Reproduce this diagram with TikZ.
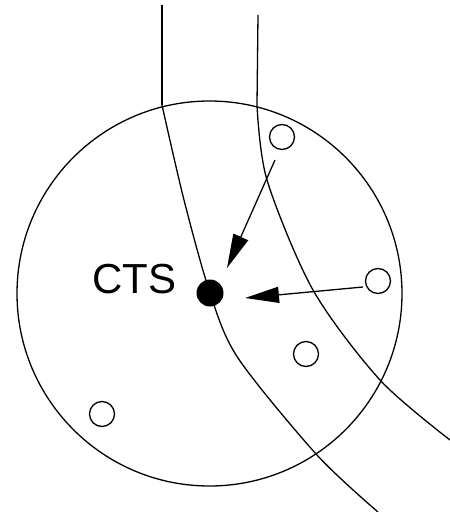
\documentclass[tikz,border=0pt]{standalone}
\usepackage{fontspec}
\setmainfont{Liberation Sans}
\usetikzlibrary{arrows.meta}
\begin{document}
\begin{tikzpicture}[x=1pt,y=-1pt,line width=1.3pt,
  station/.style={circle,draw,line width=1.3pt,minimum size=25pt,inner sep=0pt},
  cts/.style={circle,fill=black,minimum size=27pt,inner sep=0pt},
  arr/.style={-{Triangle[length=34pt,width=16pt]},line width=1.3pt}]
\useasboundingbox (0,0) rectangle (450,512);
% big circle
\draw (209.5,293.5) circle (192.5pt);
% curves
\draw plot[smooth,tension=0.5] coordinates {(162,105) (184,200) (210,293) (238,358) (317,455) (378,512)};
\draw (162,5) -- (162,105);
\draw plot[smooth,tension=0.5] coordinates {(257,105) (267,180) (313,290) (380,380) (450,440)};
\draw (258,15) -- (257,105);
% stations
\node[station] (s1) at (282,137) {};
\node[station] (s2) at (378,281) {};
\node[station] (s3) at (306,354) {};
\node[station] (s4) at (102,414) {};
\node[cts] (d) at (210,293) {};
\node[anchor=base,inner sep=0pt,font=\fontsize{42}{42}\selectfont] (t) at (134.5,293) {CTS};
% arrows
\coordinate (a1s) at (275,160);
\coordinate (a1e) at (227,268);
\coordinate (a2s) at (363,287);
\coordinate (a2e) at (245,298);
\draw[arr] (a1s) -- (a1e);
\draw[arr] (a2s) -- (a2e);
\end{tikzpicture}
\end{document}
